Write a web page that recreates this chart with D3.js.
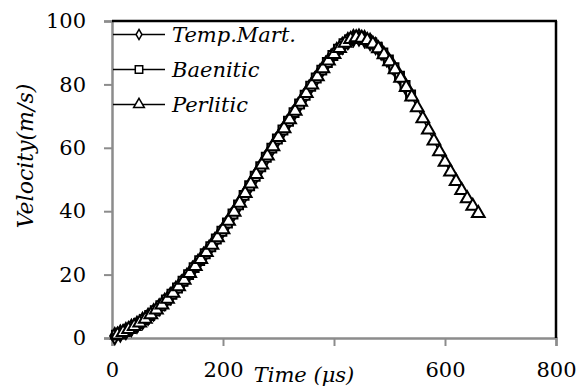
<!DOCTYPE html>
<html><head><meta charset="utf-8">
<script src="https://cdn.jsdelivr.net/npm/d3@7"></script>
<style>body{margin:0;background:#fff}svg{display:block}</style>
</head><body>
<svg id="c" width="587" height="389"></svg>
<script>
const timePerl = [10,20,30,40,50,60,70,80,90,100,110,120,130,140,150,160,170,180,190,200,210,220,230,240,250,260,270,280,290,300,310,320,330,340,350,360,370,380,390,400,410,420,430,440,450,460,470,480,490,500,510,520,530,540,550,560,570,580,590,600,610,620,630,640,650,660];
const velPerl = [1.0,1.8,2.7,3.7,4.8,6.0,7.4,8.9,10.5,12.3,14.2,16.2,18.3,20.4,22.6,24.8,27.0,29.3,31.7,34.2,36.9,39.7,42.6,45.6,48.6,51.6,54.6,57.5,60.4,63.3,66.1,68.9,71.6,74.4,77.2,79.9,82.5,85.0,87.4,89.5,91.4,93.0,94.2,94.8,94.6,93.9,92.8,91.3,89.4,87.2,84.7,82.0,79.1,76.1,72.7,69.2,65.7,62.2,58.8,55.5,52.4,49.4,46.6,44.0,41.6,39.3];
const timeTemp = [5,15,25,35,45,55,65,75,85,95,105,115,125,135,145,155,165,175,185,195,205,215,225,235,245,255,265,275,285,295,305,315,325,335,345,355,365,375,385,395,405,415,425,435,445,455,465,475,485,495,505,515,525,535];
const velTemp = [0.6,1.4,2.2,3.2,4.2,5.4,6.7,8.1,9.7,11.4,13.2,15.2,17.2,19.3,21.5,23.7,25.9,28.1,30.5,32.9,35.5,38.3,41.1,44.1,47.1,50.1,53.1,56.1,59.0,61.9,64.7,67.5,70.3,73.0,75.8,78.6,81.2,83.8,86.2,88.5,90.5,92.2,93.7,94.6,94.8,94.3,93.4,92.1,90.4,88.3,86.0,83.4,80.6,77.6];
const timeBaen = [8,18,28,38,48,58,68,78,88,98,108,118,128,138,148,158,168,178,188,198,208,218,228,238,248,258,268,278,288,298,308,318,328,338,348,358,368,378,388,398,408,418,428,438,448,458,468,478,488,498,508,518,528,538];
const velBaen = [0.9,1.6,2.5,3.5,4.6,5.8,7.1,8.6,10.2,12.0,13.8,15.8,17.9,20.0,22.2,24.4,26.6,28.8,31.2,33.7,36.3,39.1,42.0,45.0,48.0,51.0,54.0,57.0,59.9,62.8,65.6,68.4,71.1,73.8,76.6,79.4,82.0,84.5,86.9,89.1,91.1,92.8,94.0,94.8,94.8,94.2,93.1,91.7,89.9,87.7,85.3,82.6,79.7,76.7];
const seriesNames = ["Temp.Mart.","Baenitic","Perlitic"];
const xTicks = [0,200,400,600,800];
const xHiddenLabel = 400; // covered by the axis title in the reference
const yTicks = [0,20,40,60,80,100];

const svg = d3.select("#c");
const L = 112, R = 556, T = 21, B = 338;
const x = d3.scaleLinear().domain([0,800]).range([L,R]);
const y = d3.scaleLinear().domain([0,100]).range([B,T]);
const font = "'DejaVu Serif', serif";

// axes
const gx = svg.append("g").attr("transform",`translate(0,${B})`)
  .call(d3.axisBottom(x).tickValues(xTicks).tickSize(8).tickPadding(16)
    .tickFormat(d => d === xHiddenLabel ? "" : d));
const gy = svg.append("g").attr("transform",`translate(${L},0)`)
  .call(d3.axisLeft(y).tickValues(yTicks).tickSize(8).tickPadding(18));
[gx,gy].forEach(g=>{
  g.select(".domain").attr("stroke","#8c8c8c").attr("stroke-width",2.5);
  g.selectAll(".tick line").attr("stroke","#8c8c8c").attr("stroke-width",2);
  g.selectAll(".tick text").attr("font-family",font).attr("font-size",21).attr("fill","#000");
});
// top & right border
svg.append("line").attr("x1",L).attr("x2",R+1).attr("y1",T).attr("y2",T).attr("stroke","#000").attr("stroke-width",2.5);
svg.append("line").attr("x1",R).attr("x2",R).attr("y1",T).attr("y2",B).attr("stroke","#000").attr("stroke-width",2.5);

const line = d3.line().x(d=>x(d[0])).y(d=>y(d[1]));
const sym = [d3.symbolDiamond, d3.symbolSquare, d3.symbolTriangle];
const symSize = [75, 80, 70];
const data = [
  d3.zip(timeTemp, velTemp),
  d3.zip(timeBaen, velBaen),
  d3.zip(timePerl, velPerl)
];
data.forEach((d,i)=>{
  svg.append("path").datum(d).attr("d",line).attr("fill","none").attr("stroke","#000").attr("stroke-width",1.5);
});
data.forEach((d,i)=>{
  svg.append("g").selectAll("path").data(d).join("path")
    .attr("transform",p=>`translate(${x(p[0])},${y(p[1])})`)
    .attr("d",d3.symbol(sym[i],symSize[i]))
    .attr("fill","#fff").attr("stroke","#000").attr("stroke-width",2);
});

// legend
const legY = [34.5, 69.5, 104.5];
const legSize = [30, 55, 50];
seriesNames.forEach((n,i)=>{
  const g = svg.append("g");
  g.append("line").attr("x1",113).attr("x2",165).attr("y1",legY[i]).attr("y2",legY[i]).attr("stroke","#000").attr("stroke-width",1.5);
  g.append("path").attr("transform",`translate(139,${legY[i]})`).attr("d",d3.symbol(sym[i],legSize[i]))
    .attr("fill","#fff").attr("stroke","#000").attr("stroke-width",1.5);
  g.append("text").attr("x",172).attr("y",legY[i]).attr("dy","0.35em")
    .attr("font-family",font).attr("font-style","italic").attr("font-size",21).text(n);
});

// axis titles
svg.append("rect").attr("x",244).attr("y",352).attr("width",119).attr("height",37).attr("fill","#fff");
svg.append("text").attr("x",304).attr("y",382).attr("text-anchor","middle")
  .attr("font-family",font).attr("font-style","italic").attr("font-size",21).text("Time (μs)");
svg.append("text").attr("transform","translate(33,156) rotate(-90)").attr("text-anchor","middle")
  .attr("font-family",font).attr("font-style","italic").attr("font-size",22).text("Velocity(m/s)");
</script>
</body></html>
